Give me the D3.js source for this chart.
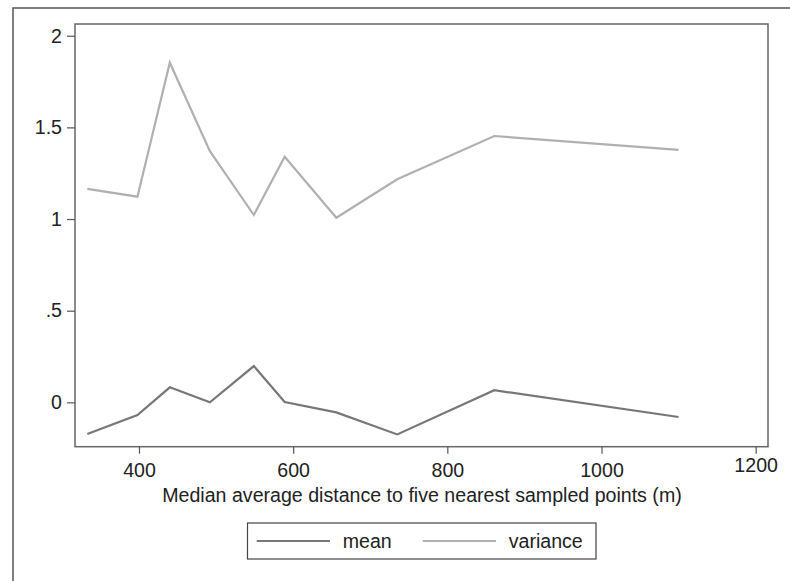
<!DOCTYPE html>
<html><head><meta charset="utf-8">
<script src="https://cdn.jsdelivr.net/npm/d3@7"></script>
<style>body{margin:0;background:#fff;} text{font-family:"Liberation Sans",Arial,sans-serif;fill:#222;}</style>
</head><body>
<svg id="c" width="790" height="581"></svg>
<script>
const distance = [333, 398, 440, 492, 549, 589, 656, 735, 861, 1100];
const meanVals = [-0.173, -0.069, 0.082, 0.0, 0.198, 0.002, -0.055, -0.175, 0.066, -0.08];
const varianceVals = [1.165, 1.122, 1.853, 1.37, 1.022, 1.34, 1.007, 1.217, 1.453, 1.377];
const xTicks = [400, 600, 800, 1000, 1200];
const yTicks = [0, 0.5, 1, 1.5, 2];
const yTickLabels = ["0", ".5", "1", "1.5", "2"];
const seriesNames = ["mean", "variance"];
const seriesColors = ["#777777", "#b0b0b0"];

const FS = 19.6;
const svg = d3.select("#c");
const L = 75, R = 768, T = 24, B = 446.7;
const x = d3.scaleLinear().domain([317, 1216]).range([L, R]);
const y = d3.scaleLinear().domain([-0.242, 2.064]).range([B, T]);

// outer frame
svg.append("path").attr("d", `M13,581 V8 H790`).attr("fill","none").attr("stroke","#555").attr("stroke-width",1.5);
// plot frame
svg.append("rect").attr("x",L).attr("y",T).attr("width",R-L).attr("height",B-T)
  .attr("fill","none").attr("stroke","#666").attr("stroke-width",1.5);

const xa = svg.append("g").attr("transform",`translate(0,${B})`)
  .call(d3.axisBottom(x).tickValues(xTicks).tickSize(7).tickPadding(9).tickFormat(d3.format("d")));
const ya = svg.append("g").attr("transform",`translate(${L},0)`)
  .call(d3.axisLeft(y).tickValues(yTicks).tickSize(8).tickPadding(5).tickFormat((d,i)=>yTickLabels[i]));
[xa,ya].forEach(a=>{
  a.select(".domain").remove();
  a.selectAll(".tick line").attr("stroke","#555").attr("stroke-width",1.2);
  a.selectAll(".tick text").attr("font-size",FS).attr("fill","#222").attr("font-family","Liberation Sans, Arial, sans-serif");
});
xa.selectAll(".tick text").filter(d=>d===1200).attr("dy","0.5em");

svg.append("text").attr("x",(L+R)/2 + 0.5).attr("y",501.5).attr("text-anchor","middle")
  .attr("font-size",FS).text("Median average distance to five nearest sampled points (m)");

const line = vals => d3.line().x((d,i)=>x(distance[i])).y(d=>y(d))(vals);
svg.append("path").attr("d",line(varianceVals)).attr("fill","none").attr("stroke",seriesColors[1]).attr("stroke-width",2.2).attr("stroke-linejoin","miter");
svg.append("path").attr("d",line(meanVals)).attr("fill","none").attr("stroke",seriesColors[0]).attr("stroke-width",2.2).attr("stroke-linejoin","miter");

// legend
const lg = svg.append("g");
lg.append("rect").attr("x",247.5).attr("y",523).attr("width",348.5).attr("height",36)
  .attr("fill","#fff").attr("stroke","#444").attr("stroke-width",1.2);
const lx = [256.7, 422.7];
seriesNames.forEach((n,i)=>{
  lg.append("line").attr("x1",lx[i]).attr("x2",lx[i]+73.3).attr("y1",541).attr("y2",541)
    .attr("stroke",seriesColors[i]).attr("stroke-width",2.2);
  lg.append("text").attr("x",lx[i]+86).attr("y",548).attr("font-size",FS).text(n);
});
</script>
</body></html>
